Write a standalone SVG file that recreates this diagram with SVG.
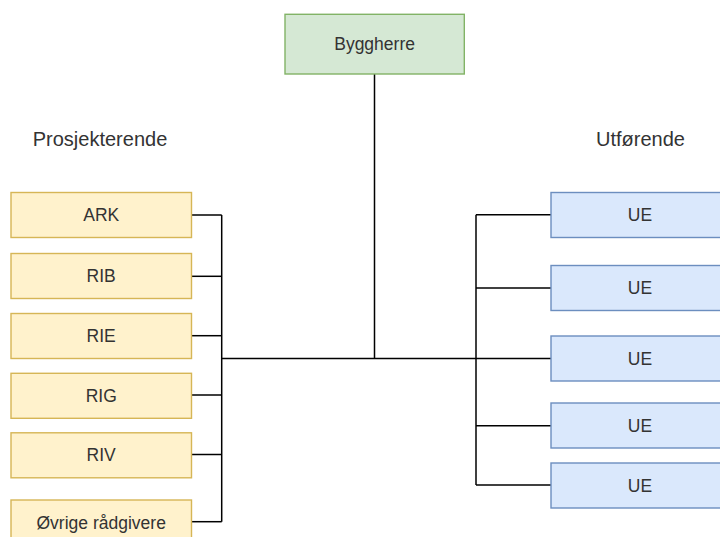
<svg xmlns="http://www.w3.org/2000/svg" width="720" height="537" viewBox="0 0 720 537">
  <style>
    .box { stroke-width: 1.4; }
    .owner { fill: #d5e8d4; stroke: #82b366; }
    .design { fill: #fff2cc; stroke: #d6b656; }
    .contractor { fill: #dae8fc; stroke: #6c8ebf; }
    .lbl { font-family: "Liberation Sans", Arial, sans-serif; font-size: 17.5px; fill: #333333; text-anchor: middle; }
    .head { font-family: "Liberation Sans", Arial, sans-serif; font-size: 20px; fill: #333333; text-anchor: middle; }
    .conn { fill: none; stroke: #000000; stroke-width: 1.5; }
  </style>
  <rect width="720" height="537" fill="#ffffff"/>

  <!-- connectors -->
  <g id="connectors">
    <!-- owner down to the main bus -->
    <path class="conn" d="M374.5,74 V358.5"/>
    <!-- main bus -->
    <path class="conn" d="M221.7,358.5 H476"/>
    <!-- design side trunk and branches -->
    <path class="conn" d="M221.7,215 V521.7"/>
    <path class="conn" d="M191.5,215 H221.7"/>
    <path class="conn" d="M191.5,276.3 H221.7"/>
    <path class="conn" d="M191.5,335.7 H221.7"/>
    <path class="conn" d="M191.5,395 H221.7"/>
    <path class="conn" d="M191.5,454.5 H221.7"/>
    <path class="conn" d="M191.5,521.7 H221.7"/>
    <!-- contractor side trunk and branches -->
    <path class="conn" d="M476,214.7 V485"/>
    <path class="conn" d="M476,214.7 H551"/>
    <path class="conn" d="M476,288 H551"/>
    <path class="conn" d="M476,358.5 H551"/>
    <path class="conn" d="M476,425.7 H551"/>
    <path class="conn" d="M476,485 H551"/>
  </g>

  <!-- column headings -->
  <text class="head" x="100" y="146">Prosjekterende</text>
  <text class="head" x="640.5" y="146">Utførende</text>

  <!-- owner -->
  <g id="byggherre">
    <rect class="box owner" x="285" y="14.3" width="179.3" height="59.7"/>
    <text class="lbl" x="374.6" y="49.5">Byggherre</text>
  </g>

  <!-- design consultants -->
  <g id="ark">
    <rect class="box design" x="11" y="192.5" width="180.5" height="45"/>
    <text class="lbl" x="101.2" y="221">ARK</text>
  </g>
  <g id="rib">
    <rect class="box design" x="11" y="253.5" width="180.5" height="45"/>
    <text class="lbl" x="101.2" y="282">RIB</text>
  </g>
  <g id="rie">
    <rect class="box design" x="11" y="313.5" width="180.5" height="45"/>
    <text class="lbl" x="101.2" y="342">RIE</text>
  </g>
  <g id="rig">
    <rect class="box design" x="11" y="373.3" width="180.5" height="45"/>
    <text class="lbl" x="101.2" y="401.8">RIG</text>
  </g>
  <g id="riv">
    <rect class="box design" x="11" y="432.8" width="180.5" height="45"/>
    <text class="lbl" x="101.2" y="461.3">RIV</text>
  </g>
  <g id="ovrige">
    <rect class="box design" x="11" y="500" width="180.5" height="45"/>
    <text class="lbl" x="101.2" y="528.5">Øvrige rådgivere</text>
  </g>

  <!-- contractors -->
  <g id="ue1">
    <rect class="box contractor" x="551" y="192.5" width="180" height="45"/>
    <text class="lbl" x="640" y="221">UE</text>
  </g>
  <g id="ue2">
    <rect class="box contractor" x="551" y="265.5" width="180" height="45"/>
    <text class="lbl" x="640" y="294">UE</text>
  </g>
  <g id="ue3">
    <rect class="box contractor" x="551" y="336" width="180" height="45"/>
    <text class="lbl" x="640" y="364.5">UE</text>
  </g>
  <g id="ue4">
    <rect class="box contractor" x="551" y="403" width="180" height="45"/>
    <text class="lbl" x="640" y="431.5">UE</text>
  </g>
  <g id="ue5">
    <rect class="box contractor" x="551" y="463" width="180" height="45"/>
    <text class="lbl" x="640" y="491.5">UE</text>
  </g>
</svg>
